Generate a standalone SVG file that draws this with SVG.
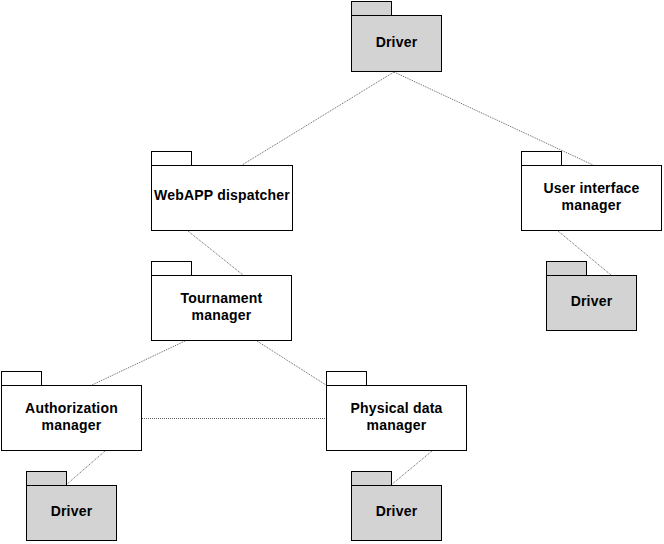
<svg xmlns="http://www.w3.org/2000/svg" width="664" height="544" viewBox="0 0 664 544">
<style>
.pk{fill:#ffffff;stroke:#000000;stroke-width:1}
.dr{fill:#d3d3d3;stroke:#000000;stroke-width:1}
.t{font-family:"Liberation Sans",Arial,sans-serif;font-size:14px;font-weight:bold;fill:#000000;text-anchor:middle;letter-spacing:0.2px}
.c{stroke:#606060;stroke-width:1;stroke-dasharray:1 1;fill:none}
</style>
<rect width="664" height="544" fill="#ffffff"/>
<g id="connectors">
<line class="c" x1="394" y1="72" x2="242" y2="165"/>
<line class="c" x1="394" y1="72" x2="593" y2="165"/>
<line class="c" x1="188" y1="231" x2="243" y2="275"/>
<line class="c" x1="558" y1="231" x2="611" y2="275"/>
<line class="c" x1="185" y1="341" x2="92" y2="385"/>
<line class="c" x1="257" y1="341" x2="326" y2="385"/>
<line class="c" x1="142" y1="418.5" x2="326" y2="418.5"/>
<line class="c" x1="105" y1="451" x2="66" y2="485"/>
<line class="c" x1="432" y1="451" x2="391" y2="485"/>
</g>
<g id="driver-top">
<rect class="dr" x="351.5" y="1.5" width="40" height="14"/>
<rect class="dr" x="351.5" y="15.5" width="90" height="56"/>
<text class="t" x="396.5" y="46.5">Driver</text>
</g>
<g id="webapp-dispatcher">
<rect class="pk" x="151.5" y="151.5" width="40" height="14"/>
<rect class="pk" x="151.5" y="165.5" width="141" height="65"/>
<text class="t" x="222" y="200">WebAPP dispatcher</text>
</g>
<g id="user-interface-manager">
<rect class="pk" x="521.5" y="151.5" width="40" height="14"/>
<rect class="pk" x="521.5" y="165.5" width="140" height="65"/>
<text class="t" x="591.5" y="193">User interface</text>
<text class="t" x="591.5" y="210">manager</text>
</g>
<g id="driver-ui">
<rect class="dr" x="546.5" y="261.5" width="40" height="14"/>
<rect class="dr" x="546.5" y="275.5" width="90" height="55"/>
<text class="t" x="591.5" y="306">Driver</text>
</g>
<g id="tournament-manager">
<rect class="pk" x="151.5" y="261.5" width="40" height="14"/>
<rect class="pk" x="151.5" y="275.5" width="140" height="65"/>
<text class="t" x="221.5" y="303">Tournament</text>
<text class="t" x="221.5" y="320">manager</text>
</g>
<g id="authorization-manager">
<rect class="pk" x="1.5" y="371.5" width="40" height="14"/>
<rect class="pk" x="1.5" y="385.5" width="140" height="65"/>
<text class="t" x="71.5" y="413">Authorization</text>
<text class="t" x="71.5" y="430">manager</text>
</g>
<g id="physical-data-manager">
<rect class="pk" x="326.5" y="371.5" width="40" height="14"/>
<rect class="pk" x="326.5" y="385.5" width="140" height="65"/>
<text class="t" x="396.5" y="413">Physical data</text>
<text class="t" x="396.5" y="430">manager</text>
</g>
<g id="driver-auth">
<rect class="dr" x="26.5" y="471.5" width="40" height="14"/>
<rect class="dr" x="26.5" y="485.5" width="90" height="55"/>
<text class="t" x="71.5" y="516">Driver</text>
</g>
<g id="driver-physical">
<rect class="dr" x="351.5" y="471.5" width="40" height="14"/>
<rect class="dr" x="351.5" y="485.5" width="90" height="55"/>
<text class="t" x="396.5" y="516">Driver</text>
</g>
</svg>
